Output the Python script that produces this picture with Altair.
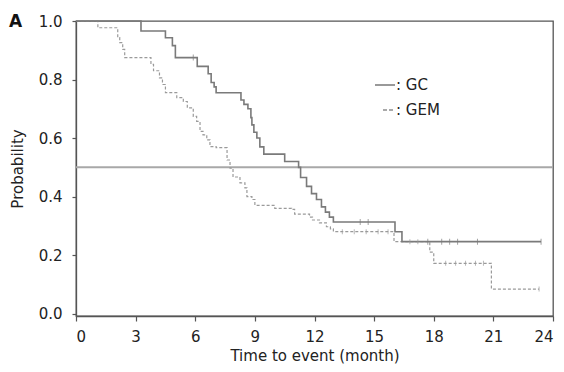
import altair as alt
import pandas as pd

# GC arm (solid): step times (months) and survival probability after each step
gc_time = [0, 3.27, 4.5, 4.85, 5.0, 6.1, 6.65, 6.8, 6.95, 7.05, 8.3, 8.45, 8.65, 8.8, 8.85, 8.95,
           9.1, 9.25, 9.45, 10.5, 11.2, 11.3, 11.6, 11.85, 12.1, 12.35, 12.55, 12.75, 12.95,
           16.05, 16.4, 23.4]
gc_surv = [1.0, 0.966, 0.943, 0.916, 0.875, 0.845, 0.82, 0.79, 0.775, 0.755, 0.73, 0.715, 0.70,
           0.67, 0.645, 0.62, 0.60, 0.57, 0.545, 0.52, 0.50, 0.465, 0.435, 0.41, 0.39, 0.365,
           0.347, 0.33, 0.313, 0.28, 0.246, 0.246]

# GEM arm (dashed)
gem_time = [0, 1.1, 2.1, 2.2, 2.35, 2.45, 3.77, 3.9, 4.2, 4.35, 4.5, 5.07, 5.4, 5.6, 5.9, 6.07,
            6.24, 6.39, 6.58, 6.74, 7.05, 7.6, 7.75, 7.9, 8.25, 8.5, 8.6, 8.85, 9.0, 10.0, 10.85,
            11.0, 11.75, 11.9, 12.25, 12.6, 12.8, 12.95, 16.0, 17.8, 18.0, 20.9, 23.3]
gem_surv = [1.0, 0.977, 0.943, 0.926, 0.903, 0.875, 0.852, 0.83, 0.806, 0.783, 0.755, 0.738,
            0.725, 0.703, 0.674, 0.657, 0.623, 0.611, 0.594, 0.571, 0.567, 0.525, 0.497, 0.467,
            0.447, 0.43, 0.40, 0.39, 0.37, 0.36, 0.356, 0.34, 0.33, 0.32, 0.31, 0.297, 0.29,
            0.28, 0.246, 0.21, 0.172, 0.084, 0.084]

# censoring marks
gc_cens_time = [5.9, 14.3, 14.7, 17.7, 18.4, 18.8, 19.2, 20.2, 23.4]
gc_cens_surv = [0.875, 0.313, 0.313, 0.246, 0.246, 0.246, 0.246, 0.246, 0.246]
gem_cens_time = [13.4, 14.0, 14.6, 15.2, 15.7, 16.8, 17.2, 18.6, 19.1, 19.6, 20.1, 20.5, 23.3]
gem_cens_surv = [0.28, 0.28, 0.28, 0.28, 0.28, 0.246, 0.246, 0.172, 0.172, 0.172, 0.172, 0.172, 0.084]

x_ticks = [0, 3, 6, 9, 12, 15, 18, 21, 24]
y_ticks = [0.0, 0.2, 0.4, 0.6, 0.8, 1.0]
legend_labels = [": GC", ": GEM"]

gc = pd.DataFrame({"t": gc_time, "s": gc_surv})
gem = pd.DataFrame({"t": gem_time, "s": gem_surv})
gcc = pd.DataFrame({"t": gc_cens_time, "s": gc_cens_surv})
gemc = pd.DataFrame({"t": gem_cens_time, "s": gem_cens_surv})

FONT = "DejaVu Sans"
xs = alt.Scale(domain=[0, 24], nice=False, zero=False)
ys = alt.Scale(domain=[-0.008, 1.0], nice=False, zero=False)

xax = alt.Axis(values=x_ticks, title="Time to event (month)", grid=False, format="d",
               tickSize=5, labelPadding=8, titlePadding=4)
yax = alt.Axis(values=y_ticks, title="Probability", grid=False, format=".1f",
               tickSize=4, labelPadding=10, titlePadding=13)

gc_line = alt.Chart(gc).mark_line(interpolate="step-after", color="#7a7a7a", strokeWidth=1.6).encode(
    x=alt.X("t:Q", scale=xs, axis=xax),
    y=alt.Y("s:Q", scale=ys, axis=yax),
)
gem_line = alt.Chart(gem).mark_line(interpolate="step-after", color="#9a9a9a", strokeWidth=1.2,
                                    strokeDash=[3, 2]).encode(
    x=alt.X("t:Q", scale=xs), y=alt.Y("s:Q", scale=ys))

gc_c = alt.Chart(gcc).mark_tick(orient="vertical", color="#7a7a7a", size=6, thickness=1).encode(
    x=alt.X("t:Q", scale=xs), y=alt.Y("s:Q", scale=ys))
gem_c = alt.Chart(gemc).mark_tick(orient="vertical", color="#9a9a9a", size=5, thickness=1).encode(
    x=alt.X("t:Q", scale=xs), y=alt.Y("s:Q", scale=ys))

half = alt.Chart(pd.DataFrame({"y": [0.5]})).mark_rule(color="#a8a8a8", strokeWidth=2).encode(
    y=alt.Y("y:Q", scale=ys))

leg_df = pd.DataFrame({"lab": legend_labels, "py": [64, 89]})
leg_txt = alt.Chart(leg_df).mark_text(align="left", baseline="middle", font=FONT, fontSize=15,
                                      color="#222222").encode(
    x=alt.value(320), y=alt.Y("py:Q", scale=None), text="lab:N")
leg_solid = alt.Chart(pd.DataFrame({"a": [0]})).mark_rule(color="#555555", strokeWidth=1.2).encode(
    x=alt.value(299), x2=alt.value(319), y=alt.value(64))
leg_dash = alt.Chart(pd.DataFrame({"a": [0]})).mark_rule(color="#555555", strokeWidth=1.2,
                                                          strokeDash=[4, 2]).encode(
    x=alt.value(307), x2=alt.value(319), y=alt.value(89))

panel = alt.Chart(pd.DataFrame({"lab": ["A"]})).mark_text(
    align="left", baseline="middle", font=FONT, fontSize=17, fontWeight="bold", color="#111111"
).encode(x=alt.value(-67), y=alt.value(1), text="lab:N")

chart = alt.layer(half, gem_line, gc_line, gem_c, gc_c, leg_solid, leg_dash, leg_txt, panel).properties(
    width=477, height=295,
    autosize=alt.AutoSizeParams(type="none"),
    padding={"left": 68, "top": 13, "right": 3, "bottom": 48},
).configure_view(stroke="#555555", strokeWidth=1.3).configure_axis(
    domainColor="#555555", domainWidth=1.3, tickColor="#555555", tickWidth=1.2,
    labelFont=FONT, labelFontSize=15, labelColor="#222222",
    titleFont=FONT, titleFontSize=15, titleColor="#222222", titleFontWeight="normal",
)

chart.save("out.html", embed_options={"renderer": "svg", "actions": False})
